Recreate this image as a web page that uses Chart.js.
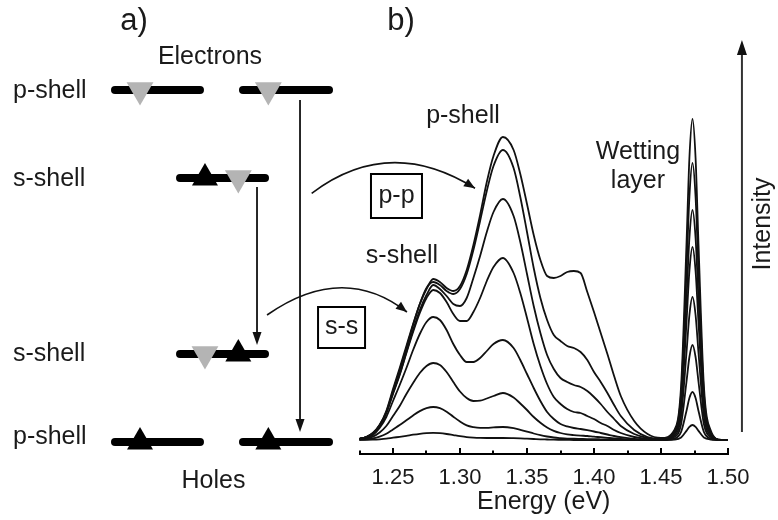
<!DOCTYPE html>
<html>
<head>
<meta charset="utf-8">
<script src="https://cdn.jsdelivr.net/npm/chart.js@4.4.1/dist/chart.umd.min.js"></script>
<style>
  html, body { margin: 0; padding: 0; background: #fff; }
  #wrap { position: relative; width: 778px; height: 520px; }
  #wrap canvas { position: absolute; left: 0; top: 0; }
</style>
</head>
<body>
<div id="wrap">
  <canvas id="spectra" width="778" height="520"></canvas>
  <canvas id="levels" width="778" height="520"></canvas>
</div>
<script>
// photon energy grid (eV), shared by all spectra
const energy = [1.224, 1.23, 1.235, 1.24, 1.245, 1.25, 1.255, 1.26, 1.265, 1.27,
  1.275, 1.28, 1.285, 1.29, 1.295, 1.30, 1.305, 1.31, 1.315, 1.32,
  1.325, 1.332, 1.34, 1.345, 1.35, 1.355, 1.36, 1.365, 1.37, 1.375,
  1.38, 1.385, 1.39, 1.395, 1.40, 1.405, 1.41, 1.415, 1.42, 1.43,
  1.44, 1.45, 1.46, 1.465, 1.469, 1.4712, 1.4735, 1.4758, 1.478, 1.482,
  1.487, 1.495, 1.50];

// PL intensity (a.u.), highest excitation power first
const pl1 = [1,3,7,15,29,51,72,94,116,136,151,161,158,152,149,154,170,195,225,258,284,303,290,266,236,205,180,164,162,164,168,169,167,148,128,107,86,64,44,19,6,2,10,54,195,282,321,282,195,54,10,0,0];
const pl2 = [1,3,7,15,28,49,70,92,115,136,152,158,155,149,146,151,166,190,219,249,274,290,272,243,208,172,142,120,105,99,94,92,88,80,68,58,47,35,24,10,3,1,8,47,168,243,277,243,168,47,8,0,0];
const pl3 = [1,3,6,14,27,47,66,88,110,130,145,155,151,144,136,134,142,162,184,208,228,241,224,198,166,134,107,85,71,62,58,55,53,49,43,36,28,21,14,6,2,0.5,7,39,140,202,230,202,140,39,7,0,0];
const pl4 = [1,3,6,14,27,46,65,87,108,127,142,150,147,138,126,119,119,128,142,159,173,182,167,147,122,96,74,56,43,36,31,28,27,24,21,17,14,10,7,3,1,0.2,6,32,117,169,193,169,117,32,6,0,0];
const pl5 = [0.6,2,5,12,23,39,55,72,90,106,118,123,120,110,96,85,78,78,82,89,96,100,92,80,66,52,39,28,21,16,13.6,12,11,9.8,8.5,7,5.5,4,2.8,1.1,0.3,0.1,4.3,24,87,125,143,125,87,24,4.3,0,0];
const pl6 = [0.4,1.4,3.4,7.5,14,24,34,46,57,67,74,77,75,68,58,48.5,42,39,39.3,41.5,44,47,42.5,36.5,30,23,17.3,12.5,9.2,7,5.6,4.9,4.4,4,3.3,2.8,2.2,1.6,1.1,0.4,0.1,0,2.9,16,58,83,95,83,58,16,2.9,0,0];
const pl7 = [0.2,0.6,1.5,3.3,6.2,10.6,14.9,19.7,24.6,28.9,31.8,33,31.8,28.3,23.3,18.5,14.6,12.9,12.2,12.2,12.6,13,11.8,10.2,8.4,6.5,4.8,3.5,2.5,1.9,1.45,1.25,1.1,0.95,0.84,0.7,0.55,0.4,0.28,0.11,0,0,1.4,8.1,29,42,48,42,29,8.1,1.4,0,0];
const pl8 = [0,0.1,0.3,0.7,1.3,2.3,3.2,4.2,5.3,6.2,6.8,7.1,6.8,6,4.9,3.8,2.9,2.4,2.1,2,2,2,1.8,1.6,1.3,1,0.7,0.5,0.3,0.2,0.1,0,0,0,0,0,0,0,0,0,0,0,0.45,2.5,9.1,13.2,15,13.2,9.1,2.5,0.45,0,0];
const spectraSeries = [pl1, pl2, pl3, pl4, pl5, pl6, pl7, pl8];

// energy axis ticks (eV)
const majorTicks = [1.25, 1.30, 1.35, 1.40, 1.45, 1.50];
const minorTicks = [1.225, 1.275, 1.325, 1.375, 1.425, 1.475];

// level scheme: rows are electron p, electron s, hole s, hole p
const levelY = [4, 3, 1, 0];
const levelSpans = [
  [[0.328, 1.656], [2.328, 3.672]],
  [[1.344, 2.672]],
  [[1.344, 2.672]],
  [[0.328, 1.656], [2.328, 3.672]]
];
const shellNames = ['p-shell', 's-shell', 's-shell', 'p-shell'];
const electronX = [0.719, 2.724, 2.255, 1.734];
const electronY = [4, 4, 3, 1];
const holeX = [1.734, 2.255, 0.719, 2.724];
const holeY = [3, 1, 0, 0];
// recombination arrows (s-s and p-p)
const recombX = [2.547, 3.219];
const recombFrom = [2.898, 3.886];
const recombTo = [1.102, 0.114];

const FONT = '"Liberation Sans", Arial, Helvetica, sans-serif';
const INK = '#1a1a1a';
Chart.defaults.font.family = FONT;
Chart.defaults.color = INK;

function drawText(ctx, text, x, y, size, align, rotation) {
  ctx.save();
  ctx.translate(x, y);
  if (rotation) ctx.rotate(rotation);
  ctx.font = size + 'px ' + FONT;
  ctx.fillStyle = INK;
  ctx.textAlign = align || 'center';
  ctx.textBaseline = 'middle';
  ctx.fillText(text, 0, 0);
  ctx.restore();
}

function drawHead(ctx, x, y, angle, len, half) {
  ctx.save();
  ctx.translate(x, y);
  ctx.rotate(angle);
  ctx.beginPath();
  ctx.moveTo(0, 0);
  ctx.lineTo(-len, -half);
  ctx.lineTo(-len, half);
  ctx.closePath();
  ctx.fill();
  ctx.restore();
}

// curved transition arrow, given in (eV, intensity) coordinates
function curvedArrow(ctx, xs, ys, from, ctrl, to) {
  const p0 = [xs.getPixelForValue(from[0]), ys.getPixelForValue(from[1])];
  const c = [xs.getPixelForValue(ctrl[0]), ys.getPixelForValue(ctrl[1])];
  const p2 = [xs.getPixelForValue(to[0]), ys.getPixelForValue(to[1])];
  ctx.beginPath();
  ctx.moveTo(p0[0], p0[1]);
  ctx.quadraticCurveTo(c[0], c[1], p2[0], p2[1]);
  ctx.stroke();
  drawHead(ctx, p2[0], p2[1], Math.atan2(p2[1] - c[1], p2[0] - c[0]), 11, 4.5);
}

function boxedLabel(ctx, xs, ys, text, e, v, w, h) {
  const cx = xs.getPixelForValue(e), cy = ys.getPixelForValue(v);
  ctx.lineWidth = 2;
  ctx.strokeRect(cx - w / 2, cy - h / 2, w, h);
  drawText(ctx, text, cx, cy, 25);
}

const spectraDecor = {
  id: 'spectraDecor',
  afterDraw(chart) {
    const {ctx, chartArea, scales: {x, y}} = chart;
    ctx.save();
    ctx.strokeStyle = '#000';
    ctx.fillStyle = '#000';
    ctx.lineWidth = 2;
    // inward tick marks on the energy axis
    majorTicks.forEach(v => {
      const px = Math.round(x.getPixelForValue(v));
      ctx.beginPath(); ctx.moveTo(px, chartArea.bottom); ctx.lineTo(px, chartArea.bottom - 6); ctx.stroke();
    });
    minorTicks.forEach(v => {
      const px = Math.round(x.getPixelForValue(v));
      ctx.beginPath(); ctx.moveTo(px, chartArea.bottom); ctx.lineTo(px, chartArea.bottom - 3.5); ctx.stroke();
    });

    drawText(ctx, 'b)', x.getPixelForValue(1.256), y.getPixelForValue(419), 31);
    drawText(ctx, 'p-shell', x.getPixelForValue(1.3022), y.getPixelForValue(323.5), 25);
    drawText(ctx, 's-shell', x.getPixelForValue(1.2567), y.getPixelForValue(184), 25);
    drawText(ctx, 'Wetting', x.getPixelForValue(1.4328), y.getPixelForValue(287.5), 25);
    drawText(ctx, 'layer', x.getPixelForValue(1.4328), y.getPixelForValue(259), 25);

    ctx.strokeStyle = '#111';
    ctx.fillStyle = '#111';
    ctx.lineWidth = 1.6;
    curvedArrow(ctx, x, y, [1.1893, 246.7], [1.2472, 305.5], [1.3112, 251.7]);
    curvedArrow(ctx, x, y, [1.156, 125], [1.2125, 178], [1.2604, 128]);
    ctx.strokeStyle = '#000';
    boxedLabel(ctx, x, y, 'p-p', 1.2526, 244, 51, 44);
    boxedLabel(ctx, x, y, 's-s', 1.2116, 112.5, 47, 41);

    // intensity arrow at the right
    const ax = x.getPixelForValue(1.5104);
    const ayTop = y.getPixelForValue(400);
    ctx.strokeStyle = '#333';
    ctx.fillStyle = '#111';
    ctx.lineWidth = 2;
    ctx.beginPath(); ctx.moveTo(ax, y.getPixelForValue(8)); ctx.lineTo(ax, ayTop + 10); ctx.stroke();
    drawHead(ctx, ax, ayTop, -Math.PI / 2, 15, 5);
    drawText(ctx, 'Intensity', x.getPixelForValue(1.5262), y.getPixelForValue(216), 25, 'center', -Math.PI / 2);
    ctx.restore();
  }
};

new Chart(document.getElementById('spectra'), {
  type: 'line',
  data: {
    datasets: spectraSeries.map((vals, i) => ({
      label: 'P' + (i + 1),
      data: energy.map((e, j) => ({x: e, y: vals[j]})),
      borderColor: '#111',
      borderWidth: 1.8,
      pointRadius: 0,
      fill: false,
      cubicInterpolationMode: 'monotone'
    }))
  },
  options: {
    responsive: false,
    animation: false,
    devicePixelRatio: 1,
    events: [],
    layout: {padding: {left: 359.5, right: 50, top: 40, bottom: 0}},
    plugins: {legend: {display: false}, tooltip: {enabled: false}},
    scales: {
      x: {
        type: 'linear',
        min: 1.225,
        max: 1.50,
        afterFit: s => { s.height = 66; },
        afterBuildTicks: s => { s.ticks = majorTicks.map(v => ({value: v})); },
        grid: {display: false},
        border: {display: true, color: '#000', width: 2},
        ticks: {
          padding: 3,
          color: INK,
          font: {size: 22},
          maxRotation: 0,
          autoSkip: false,
          callback: v => v.toFixed(2)
        },
        title: {display: true, text: 'Energy (eV)', color: INK, font: {size: 25}, padding: {top: 0, bottom: 3}}
      },
      y: {display: false, min: -14, max: 400}
    }
  },
  plugins: [spectraDecor]
});

const levelDecor = {
  id: 'levelDecor',
  afterDraw(chart) {
    const {ctx, scales: {x, y}} = chart;
    ctx.save();
    drawText(ctx, 'a)', x.getPixelForValue(0.625), y.getPixelForValue(4.784), 31);
    drawText(ctx, 'Electrons', x.getPixelForValue(1.8125), y.getPixelForValue(4.375), 25);
    drawText(ctx, 'Holes', x.getPixelForValue(1.867), y.getPixelForValue(-0.449), 25);
    const labelY = [3.99, 2.99, 1.0, 0.05];
    shellNames.forEach((name, i) => {
      drawText(ctx, name, x.getPixelForValue(-1.266), y.getPixelForValue(labelY[i]), 25, 'left');
    });
    ctx.strokeStyle = '#111';
    ctx.fillStyle = '#111';
    ctx.lineWidth = 1.8;
    recombX.forEach((v, i) => {
      const px = x.getPixelForValue(v);
      const y0 = y.getPixelForValue(recombFrom[i]);
      const y1 = y.getPixelForValue(recombTo[i]);
      ctx.beginPath(); ctx.moveTo(px, y0); ctx.lineTo(px, y1 - 8); ctx.stroke();
      drawHead(ctx, px, y1, Math.PI / 2, 13, 4.5);
    });
    ctx.restore();
  }
};

const levelSets = [];
levelY.forEach((ly, i) => {
  levelSpans[i].forEach(span => {
    levelSets.push({
      type: 'line',
      data: [{x: span[0], y: ly}, {x: span[1], y: ly}],
      borderColor: '#000',
      borderWidth: 8,
      borderCapStyle: 'round',
      pointRadius: 0,
      showLine: true,
      clip: false,
      order: 3
    });
  });
});

new Chart(document.getElementById('levels'), {
  type: 'scatter',
  data: {
    datasets: levelSets.concat([
      {
        label: 'Electrons',
        data: electronX.map((v, i) => ({x: v, y: electronY[i]})),
        pointStyle: 'triangle',
        pointRotation: 180,
        pointRadius: 15.5,
        pointBackgroundColor: '#b4b4b4',
        pointBorderWidth: 0,
        clip: false,
        order: 1
      },
      {
        label: 'Holes',
        data: holeX.map((v, i) => ({x: v, y: holeY[i]})),
        pointStyle: 'triangle',
        pointRotation: 0,
        pointRadius: 15,
        pointBackgroundColor: '#000',
        pointBorderWidth: 0,
        clip: false,
        order: 2
      }
    ])
  },
  options: {
    responsive: false,
    animation: false,
    devicePixelRatio: 1,
    events: [],
    layout: {padding: {left: 94, right: 428, top: 90, bottom: 78}},
    plugins: {legend: {display: false}, tooltip: {enabled: false}},
    scales: {
      x: {type: 'linear', display: false, min: 0, max: 4},
      y: {type: 'linear', display: false, min: 0, max: 4}
    }
  },
  plugins: [levelDecor]
});
</script>
</body>
</html>
